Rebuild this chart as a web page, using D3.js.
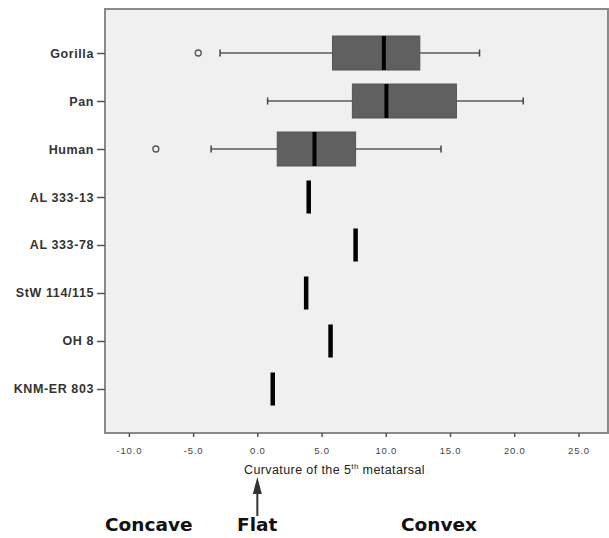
<!DOCTYPE html>
<html>
<head>
<meta charset="utf-8">
<script src="https://cdn.jsdelivr.net/npm/d3@7"></script>
<style>
  body { margin: 0; background: #fff; }
  svg { display: block; }
</style>
</head>
<body>
<div id="chart"></div>
<script>
const groups = ["Gorilla", "Pan", "Human", "AL 333-13", "AL 333-78", "StW 114/115", "OH 8", "KNM-ER 803"];

// boxplot groups: [lower whisker, Q1, median, Q3, upper whisker]
const boxNames = ["Gorilla", "Pan", "Human"];
const boxStats = [
    [-2.9, 5.85, 9.85, 12.65, 17.3],
    [0.8, 7.4, 10.05, 15.5, 20.7],
    [-3.6, 1.55, 4.45, 7.65, 14.3]
];
const outlierNames = ["Gorilla", "Human"];
const outlierValues = [-4.6, -7.9];

// single specimens
const fossilNames = ["AL 333-13", "AL 333-78", "StW 114/115", "OH 8", "KNM-ER 803"];
const fossilValues = [4.0, 7.65, 3.8, 5.7, 1.2];

const xTicks = [-10, -5, 0, 5, 10, 15, 20, 25];

const width = 609;
const height = 538;
const margin = { top: 9, right: 1, bottom: 105, left: 105 };
const plotW = width - margin.left - margin.right;
const plotH = height - margin.top - margin.bottom;

const svg = d3.select("#chart").append("svg")
    .attr("width", width)
    .attr("height", height);

const g = svg.append("g")
    .attr("transform", `translate(${margin.left},${margin.top})`);

const x = d3.scaleLinear()
    .domain([-11.86, 27.3])
    .range([0, plotW]);

const y = d3.scalePoint()
    .domain(groups)
    .range([0, plotH])
    .padding(0.917);

const boxH = 34;

// plot background
g.append("rect")
    .attr("width", plotW)
    .attr("height", plotH)
    .attr("fill", "#f0f0f0");

// boxes
boxNames.forEach((name, i) => {
    const s = boxStats[i];
    const cy = y(name);
    g.append("line")
        .attr("x1", x(s[0])).attr("x2", x(s[4]))
        .attr("y1", cy).attr("y2", cy)
        .attr("stroke", "#5a5a5a").attr("stroke-width", 1.5);
    [s[0], s[4]].forEach(v => {
        g.append("line")
            .attr("x1", x(v)).attr("x2", x(v))
            .attr("y1", cy - 3.5).attr("y2", cy + 3.5)
            .attr("stroke", "#444").attr("stroke-width", 1.5);
    });
    g.append("rect")
        .attr("x", x(s[1]))
        .attr("y", cy - boxH / 2)
        .attr("width", x(s[3]) - x(s[1]))
        .attr("height", boxH)
        .attr("fill", "#606060")
        .attr("stroke", "#555")
        .attr("stroke-width", 1);
    g.append("line")
        .attr("x1", x(s[2])).attr("x2", x(s[2]))
        .attr("y1", cy - boxH / 2).attr("y2", cy + boxH / 2)
        .attr("stroke", "#000").attr("stroke-width", 4);
});

// outliers
g.selectAll(".outlier")
    .data(outlierNames)
    .enter()
    .append("circle")
    .attr("class", "outlier")
    .attr("cx", (d, i) => x(outlierValues[i]))
    .attr("cy", d => y(d))
    .attr("r", 3)
    .attr("fill", "none")
    .attr("stroke", "#555")
    .attr("stroke-width", 1.3);

// fossil specimens
g.selectAll(".fossil")
    .data(fossilNames)
    .enter()
    .append("line")
    .attr("class", "fossil")
    .attr("x1", (d, i) => x(fossilValues[i]))
    .attr("x2", (d, i) => x(fossilValues[i]))
    .attr("y1", d => y(d) - 16.5)
    .attr("y2", d => y(d) + 16.5)
    .attr("stroke", "#000")
    .attr("stroke-width", 4.5);

// frame
g.append("rect")
    .attr("width", plotW)
    .attr("height", plotH)
    .attr("fill", "none")
    .attr("stroke", "#8a8a8a")
    .attr("stroke-width", 2);

// Y axis
const yAxis = g.append("g")
    .call(d3.axisLeft(y).tickSize(8).tickSizeOuter(0).tickPadding(3));
yAxis.select(".domain").remove();
yAxis.selectAll("line").attr("stroke", "#555").attr("stroke-width", 1.5);
yAxis.selectAll("text")
    .style("font-family", "Arial, 'Liberation Sans', sans-serif")
    .style("font-size", "12.5px")
    .style("font-weight", "bold")
    .style("letter-spacing", "0.6px")
    .attr("fill", "#333");

// X axis
const xAxis = g.append("g")
    .attr("transform", `translate(0,${plotH})`)
    .call(d3.axisBottom(x).tickValues(xTicks).tickFormat(d3.format(".1f")).tickSize(4).tickSizeOuter(0).tickPadding(10));
xAxis.select(".domain").remove();
xAxis.selectAll("line").attr("stroke", "#555").attr("stroke-width", 1.5);
xAxis.selectAll("text")
    .text(d => d3.format(".1f")(d).replace("−", "-"))
    .style("font-family", "Arial, 'Liberation Sans', sans-serif")
    .style("font-size", "9.5px")
    .style("letter-spacing", "0.8px")
    .attr("fill", "#444");

// X axis title
const title = svg.append("text")
    .attr("x", 244)
    .attr("y", 474)
    .style("font-family", "Arial, 'Liberation Sans', sans-serif")
    .style("font-size", "12.5px")
    .style("letter-spacing", "0.4px")
    .attr("fill", "#222");
title.append("tspan").text("Curvature of the 5");
title.append("tspan").attr("dy", -5).style("font-size", "8px").text("th");
title.append("tspan").attr("dy", 5).text(" metatarsal");

// arrow at flat (0)
const ax = margin.left + x(0);
svg.append("line")
    .attr("x1", ax).attr("x2", ax)
    .attr("y1", 490).attr("y2", 516)
    .attr("stroke", "#333").attr("stroke-width", 2);
svg.append("path")
    .attr("d", `M${ax},477 L${ax - 4.5},494 L${ax + 4.5},494 Z`)
    .attr("fill", "#333");

// bottom labels
const bottomLabels = ["Concave", "Flat", "Convex"];
const bottomX = [105, 237, 401];
svg.selectAll(".blabel")
    .data(bottomLabels)
    .enter()
    .append("text")
    .attr("class", "blabel")
    .attr("x", (d, i) => bottomX[i])
    .attr("y", 531)
    .style("font-family", "Verdana, 'DejaVu Sans', sans-serif")
    .style("font-size", "18.5px")
    .style("font-weight", "bold")
    .attr("fill", "#111")
    .text(d => d);
</script>
</body>
</html>
